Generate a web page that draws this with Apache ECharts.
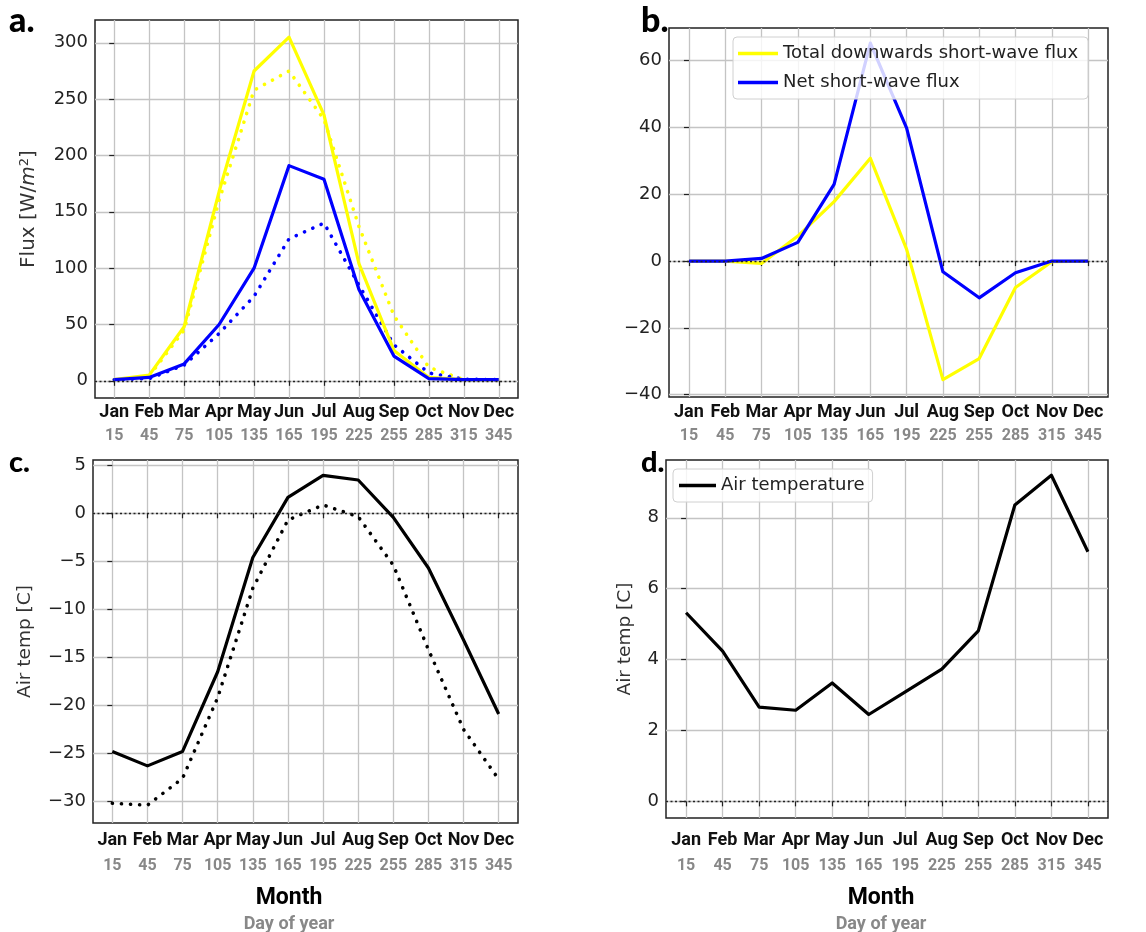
<!DOCTYPE html>
<html>
<head>
<meta charset="utf-8">
<script src="https://cdn.jsdelivr.net/npm/echarts@6/dist/echarts.min.js"></script>
<style>
html,body{margin:0;padding:0;background:#fff;}
#chart{width:1146px;height:932px;}
</style>
</head>
<body>
<div id="chart"></div>
<script>
// ---- data ----
const months = ['Jan','Feb','Mar','Apr','May','Jun','Jul','Aug','Sep','Oct','Nov','Dec'];
const dayOfYear = [15,45,75,105,135,165,195,225,255,285,315,345];
const monthIdx = [0,1,2,3,4,5,6,7,8,9,10,11];

// panel a: flux [W/m2]
const aTotalSolid  = [1,5,48,168,275,305,236,104,27,3,1,1];
const aTotalDotted = [1,4,45,160,258,275,232,137,58,12,1,1];
const aNetSolid    = [1,3,15,50,100,191,179,81,22,2,1,1];
const aNetDotted   = [1,2,14,42,75,126,140,85,32,7,1.5,1];

// panel b: flux difference
const bTotal = [0,0,-0.7,7.5,17.8,30.8,3.5,-35.5,-29.2,-7.9,-0.2,0];
const bNet   = [0,0,0.8,5.6,23,65.3,39.8,-3.2,-11,-3.5,0,0];

// panel c: air temperature [C]
const cSolid  = [-24.8,-26.3,-24.8,-16.5,-4.6,1.66,3.95,3.47,-0.42,-5.7,-13.2,-20.9];
const cDotted = [-30.2,-30.4,-27.6,-19.2,-7.8,-0.7,0.87,-0.35,-5.4,-14.2,-22.5,-27.7];

// panel d: air temperature difference [C]
const dAir = [5.32,4.24,2.66,2.57,3.34,2.45,3.09,3.73,4.81,8.36,9.2,7.04];

// y tick values
const aTicks = [0,50,100,150,200,250,300];
const bTicks = [-40,-20,0,20,40,60];
const cTicks = [-30,-25,-20,-15,-10,-5,0,5];
const dTicks = [0,2,4,6,8];

// ---- chart ----
const YEL = '#ffff00', BLU = '#0000ff', BLK = '#000000';
const pairs = arr => arr.map((v,i) => [monthIdx[i], v]);

const grids = [
  {left:95, top:20, width:423, height:378},
  {left:669, top:28, width:439, height:369},
  {left:93, top:460, width:425, height:363},
  {left:666, top:460, width:442, height:358}
].map(g => Object.assign({show:true, borderColor:'#222', borderWidth:1.5, backgroundColor:'#fff'}, g));

const xMargins = [3,4,6,11];
const xAxes = xMargins.map((m,i) => ({
  type:'value', gridIndex:i, min:-0.55, max:11.55,
  axisLine:{show:false},
  axisTick:{show:true, inside:false, length:5, lineStyle:{color:'#222', width:1.2}, customValues:monthIdx},
  splitLine:{show:true, lineStyle:{color:'#c4c4c4', width:1.3}},
  axisLabel:{
    customValues:monthIdx, margin:m,
    formatter: v => '{m|' + months[v] + '}\n{d|' + dayOfYear[v] + '}',
    rich:{
      m:{fontFamily:'Roboto', fontWeight:'bold', fontSize:18, color:'#111', lineHeight:22},
      d:{fontFamily:'Roboto', fontWeight:'bold', fontSize:16, color:'#888', lineHeight:i>=2?30:26}
    }
  }
}));

function yAxis(i, min, max, ticks, name, gap, nsize) {
  return {
    type:'value', gridIndex:i, min:min, max:max,
    axisLine:{show:false},
    axisTick:{show:true, length:5, lineStyle:{color:'#222', width:1.2}, customValues:ticks},
    splitLine:{show:true, lineStyle:{color:'#c4c4c4', width:1.3}},
    axisLabel:{customValues:ticks, fontFamily:'DejaVu Sans', fontSize:18, color:'#222', margin:7,
      formatter: v => String(v).replace('-', '\u2212')},
    name:name, nameLocation:'middle', nameRotate:90, nameGap:gap,
    nameTextStyle:{fontFamily:'DejaVu Sans', fontSize:nsize, color:'#333',
      rich:{
        n:{fontFamily:'DejaVu Sans', fontSize:nsize, color:'#333'},
        it:{fontFamily:'DejaVu Sans', fontStyle:'italic', fontSize:nsize, color:'#333'},
        sup:{fontFamily:'DejaVu Sans', fontSize:13, color:'#333', verticalAlign:'top', padding:[0,0,9,0]}
      }}
  };
}

const yAxes = [
  yAxis(0, -15.25, 320.25, aTicks, '{n|Flux [W/}{it|m}{sup|2}{n|]}', 55, 20),
  yAxis(1, -40.7, 69.8, bTicks, '', 50, 18),
  yAxis(2, -32.25, 5.55, cTicks, 'Air temp [C]', 58, 18.5),
  yAxis(3, -0.47, 9.63, dTicks, 'Air temp [C]', 31, 18.5)
];

const zeroLine = {
  silent:true, symbol:['none','none'], label:{show:false},
  lineStyle:{color:'#222', type:[2,2.5], width:1.3},
  data:[{yAxis:0}]
};
const DOT = [0.1, 9];

function line(name, data, gi, color, dotted, withZero) {
  const s = {
    name:name, type:'line', xAxisIndex:gi, yAxisIndex:gi, data:pairs(data),
    symbol:'none', animation:false, z:3,
    lineStyle:{color:color, width:dotted?3.6:3.2, type:dotted?DOT:'solid', cap:dotted?'round':'butt', join:'round'},
    itemStyle:{color:color}
  };
  if (withZero) s.markLine = zeroLine;
  return s;
}

const series = [
  line('a total (dotted)', aTotalDotted, 0, YEL, true, true),
  line('a net (dotted)', aNetDotted, 0, BLU, true, false),
  line('a total', aTotalSolid, 0, YEL, false, false),
  line('a net', aNetSolid, 0, BLU, false, false),
  line('Total downwards short-wave flux', bTotal, 1, YEL, false, true),
  line('Net short-wave flux', bNet, 1, BLU, false, false),
  line('c dotted', cDotted, 2, BLK, true, true),
  line('c solid', cSolid, 2, BLK, false, false),
  line('Air temperature', dAir, 3, BLK, false, true)
];

const legendBase = {
  orient:'vertical', icon:'rect', itemWidth:40, itemHeight:3.5, itemGap:8,
  backgroundColor:'rgba(255,255,255,0.82)', borderColor:'#d0d0d0', borderWidth:1, borderRadius:4,
  textStyle:{fontFamily:'DejaVu Sans', fontSize:18, color:'#222', lineHeight:21},
  selectedMode:false, z:10
};

const labelText = (t, x, y, size) => ({
  type:'text', left:x, top:y, z:20,
  style:{text:t, fontFamily:'Lato', fontWeight:900, fontSize:size, fill:'#000'}
});
const titleText = (t, x, y, size, color) => ({
  type:'text', x:x, y:y, z:20,
  style:{text:t, textAlign:'center', fontFamily:'Roboto', fontWeight:'bold', fontSize:size, fill:color}
});

const option = {
  animation:false,
  backgroundColor:'#fff',
  grid:grids, xAxis:xAxes, yAxis:yAxes, series:series,
  legend:[
    Object.assign({}, legendBase, {left:733, top:37, padding:[6,10,6,5], itemTextGap:15,
      data:['Total downwards short-wave flux','Net short-wave flux']}),
    Object.assign({}, legendBase, {left:673, top:469, padding:[6,8,6,6], itemWidth:37, itemTextGap:14,
      data:['Air temperature']})
  ],
  graphic:[
    labelText('a.', 9, 4, 34),
    labelText('b.', 641, 4, 34),
    labelText('c.', 9, 448, 29),
    labelText('d.', 641, 448, 29),
    titleText('Month', 289, 887, 23, '#000'),
    titleText('Day of year', 289, 915, 18, '#888'),
    titleText('Month', 881, 887, 23, '#000'),
    titleText('Day of year', 881, 915, 18, '#888')
  ]
};

const chart = echarts.init(document.getElementById('chart'), null, {renderer:'canvas'});
chart.setOption(option);
</script>
</body>
</html>
